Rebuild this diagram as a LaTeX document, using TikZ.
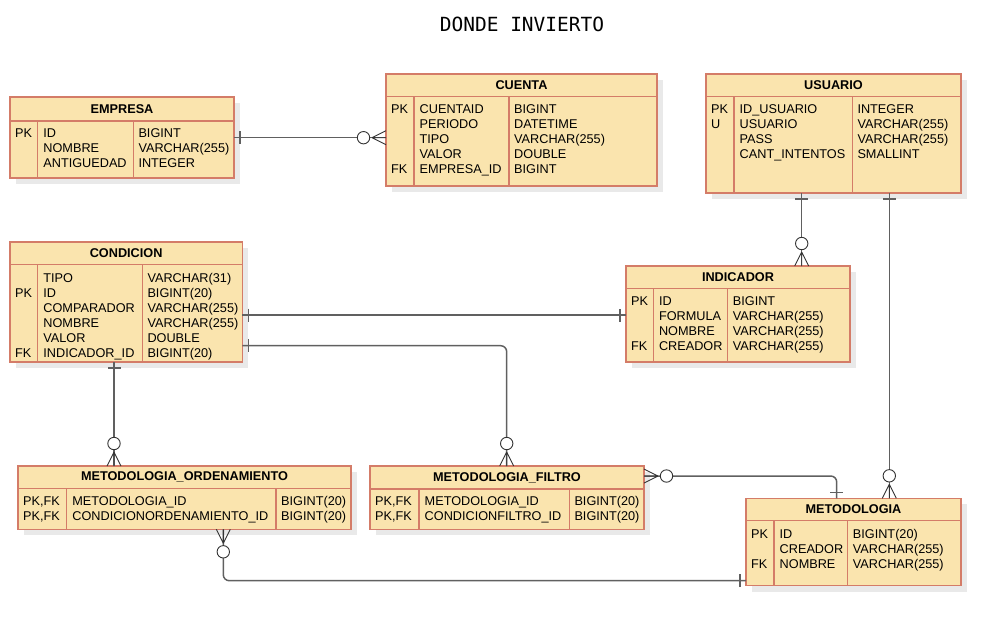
\documentclass[tikz,border=0pt]{standalone}
\usepackage{fontspec}
\setmainfont{Liberation Sans}
\newfontfamily\titlefont{DejaVu Sans Mono}
\usetikzlibrary{shadows}
\definecolor{tfill}{RGB}{250,228,174}
\definecolor{tline}{RGB}{212,124,104}
\definecolor{cline}{RGB}{96,96,96}
\definecolor{shd}{RGB}{233,233,233}
\tikzset{
 tbl/.style={draw=tline, fill=tfill, line width=1.3pt, inner sep=0pt, outer sep=0pt,
   drop shadow={shadow xshift=6pt, shadow yshift=-6pt, fill=shd, opacity=1}},
 sep/.style={draw=tline, line width=1.3pt},
 hdr/.style={font=\fontsize{12.7}{15}\selectfont\bfseries, inner sep=0pt},
 cell/.style={font=\fontsize{12.7}{15}\selectfont, inner sep=0pt, anchor=base west},
 conn/.style={draw=cline, line width=1.5pt, rounded corners=6pt},
 tickline/.style={draw=cline, line width=1.5pt},
 foot/.style={draw=black!80, line width=0.9pt},
 zmany/.pic={\draw[foot] (14,0)--(0,7) (14,0)--(0,-7) (14,0)--(0,0);
             \draw[foot, fill=white] (22.5,0) circle[radius=6.2pt];},
 onem/.pic={\draw[tickline] (6,-6.5)--(6,6.5);}
}
% #1 name, #2 x1, #3 y1, #4 x2, #5 y2, #6 header bottom, #7 div1, #8 div2, #9 title
\newcommand\ertab[9]{%
 \node[tbl, anchor=north west, minimum width={#4-#2}, minimum height={#5-#3}] (#1) at (#2,#3) {};
 \draw[sep] (#2,#6) -- (#4,#6);
 \draw[sep] (#7,#6) -- (#7,#5);
 \draw[sep] (#8,#6) -- (#8,#5);
 \node[hdr] (#1-h) at ({(#2+#4)/2},{(#3+#6)/2}) {#9};
}
% #1 name, #2 x1, #3 div1, #4 div2, #5 first baseline, #6 rows
\newcommand\errows[6]{%
 \foreach \k/\n/\t [count=\i] in {#6} {
  \node[cell] (#1-k\i) at ({#2+5},{#5+15*(\i-1)}) {\k};
  \node[cell] (#1-n\i) at ({#3+5.5},{#5+15*(\i-1)}) {\n};
  \node[cell] (#1-t\i) at ({#4+5},{#5+15*(\i-1)}) {\t};
 }
}
\begin{document}
\begin{tikzpicture}[x=1pt,y=-1pt]
\useasboundingbox (0,0) rectangle (1001,641);
\node[font=\titlefont\fontsize{19.5}{22}\selectfont, anchor=base, inner sep=0pt] (title) at (522,31.5) {DONDE INVIERTO};

\ertab{emp}{10}{97}{234}{178}{121}{37.7}{133.3}{EMPRESA}
\errows{emp}{10}{37.7}{133.3}{137.5}{PK/ID/BIGINT, /NOMBRE/VARCHAR(255), /ANTIGUEDAD/INTEGER}

\ertab{cue}{386}{74}{657}{186}{96.7}{414}{509}{CUENTA}
\errows{cue}{386}{414}{509}{113.5}{PK/CUENTAID/BIGINT, /PERIODO/DATETIME, /TIPO/VARCHAR(255), /VALOR/DOUBLE, FK/EMPRESA\_ID/BIGINT}

\ertab{usu}{706}{74}{961}{193}{96.7}{734}{852.3}{USUARIO}
\errows{usu}{706}{734}{852.3}{113.5}{PK/ID\_USUARIO/INTEGER, U/USUARIO/VARCHAR(255), /PASS/VARCHAR(255), /CANT\_INTENTOS/SMALLINT}

\ertab{ind}{626}{266}{850}{362}{288.3}{653.3}{727.7}{INDICADOR}
\errows{ind}{626}{653.3}{727.7}{305.5}{PK/ID/BIGINT, /FORMULA/VARCHAR(255), /NOMBRE/VARCHAR(255), FK/CREADOR/VARCHAR(255)}

\ertab{con}{10}{242}{242.3}{362}{264.3}{37.7}{142.3}{CONDICION}
\errows{con}{10}{37.7}{142.3}{282.5}{/TIPO/VARCHAR(31), PK/ID/BIGINT(20), /COMPARADOR/VARCHAR(255), /NOMBRE/VARCHAR(255), /VALOR/DOUBLE, FK/INDICADOR\_ID/BIGINT(20)}

\ertab{ord}{18}{466}{351}{529.3}{488.3}{66.7}{276}{METODOLOGIA\_ORDENAMIENTO}
\errows{ord}{18}{66.7}{276}{505.5}{{PK,FK}/METODOLOGIA\_ID/BIGINT(20), {PK,FK}/CONDICIONORDENAMIENTO\_ID/BIGINT(20)}

\ertab{fil}{370}{466}{644}{529.3}{489}{419}{569.3}{METODOLOGIA\_FILTRO}
\errows{fil}{370}{419}{569.3}{505.5}{{PK,FK}/METODOLOGIA\_ID/BIGINT(20), {PK,FK}/CONDICIONFILTRO\_ID/BIGINT(20)}

\ertab{met}{746}{498.3}{961}{585.7}{520.7}{774}{847.7}{METODOLOGIA}
\errows{met}{746}{774}{847.7}{538}{PK/ID/BIGINT(20), /CREADOR/VARCHAR(255), FK/NOMBRE/VARCHAR(255)}

% connectors
\draw[conn] (emp.east |- 0,137.7) -- (cue.west |- 0,137.7);
\draw[conn] (usu.south -| 801.7,0) -- (ind.north -| 801.7,0);
\draw[conn] (usu.south -| 889.3,0) -- (met.north -| 889.3,0);
\draw[conn] (con.east |- 0,315) -- (ind.west |- 0,315);
\draw[conn] (con.east |- 0,345.7) -| (fil.north -| 506.7,0);
\draw[conn] (con.south -| 114,0) -- (ord.north -| 114,0);
\draw[conn] (fil.east |- 0,476) -| (met.north -| 836.7,0);
\draw[conn] (ord.south -| 223.3,0) |- (met.west |- 0,580.7);

% markers
\pic[rotate=0] at (emp.east |- 0,137.7) {onem};
\pic[rotate=180] at (cue.west |- 0,137.7) {zmany};
\pic[rotate=-90] at (usu.south -| 801.7,0) {onem};
\pic[rotate=90] at (ind.north -| 801.7,0) {zmany};
\pic[rotate=-90] at (usu.south -| 889.3,0) {onem};
\pic[rotate=90] at (met.north -| 889.3,0) {zmany};
\pic[rotate=0] at (con.east |- 0,315) {onem};
\pic[rotate=180] at (ind.west |- 0,315) {onem};
\pic[rotate=0] at (con.east |- 0,345.7) {onem};
\pic[rotate=90] at (fil.north -| 506.7,0) {zmany};
\pic[rotate=-90] at (con.south -| 114,0) {onem};
\pic[rotate=90] at (ord.north -| 114,0) {zmany};
\pic[rotate=0] at (fil.east |- 0,476) {zmany};
\pic[rotate=90] at (met.north -| 836.7,0) {onem};
\pic[rotate=-90] at (ord.south -| 223.3,0) {zmany};
\pic[rotate=180] at (met.west |- 0,580.7) {onem};
\end{tikzpicture}
\end{document}
